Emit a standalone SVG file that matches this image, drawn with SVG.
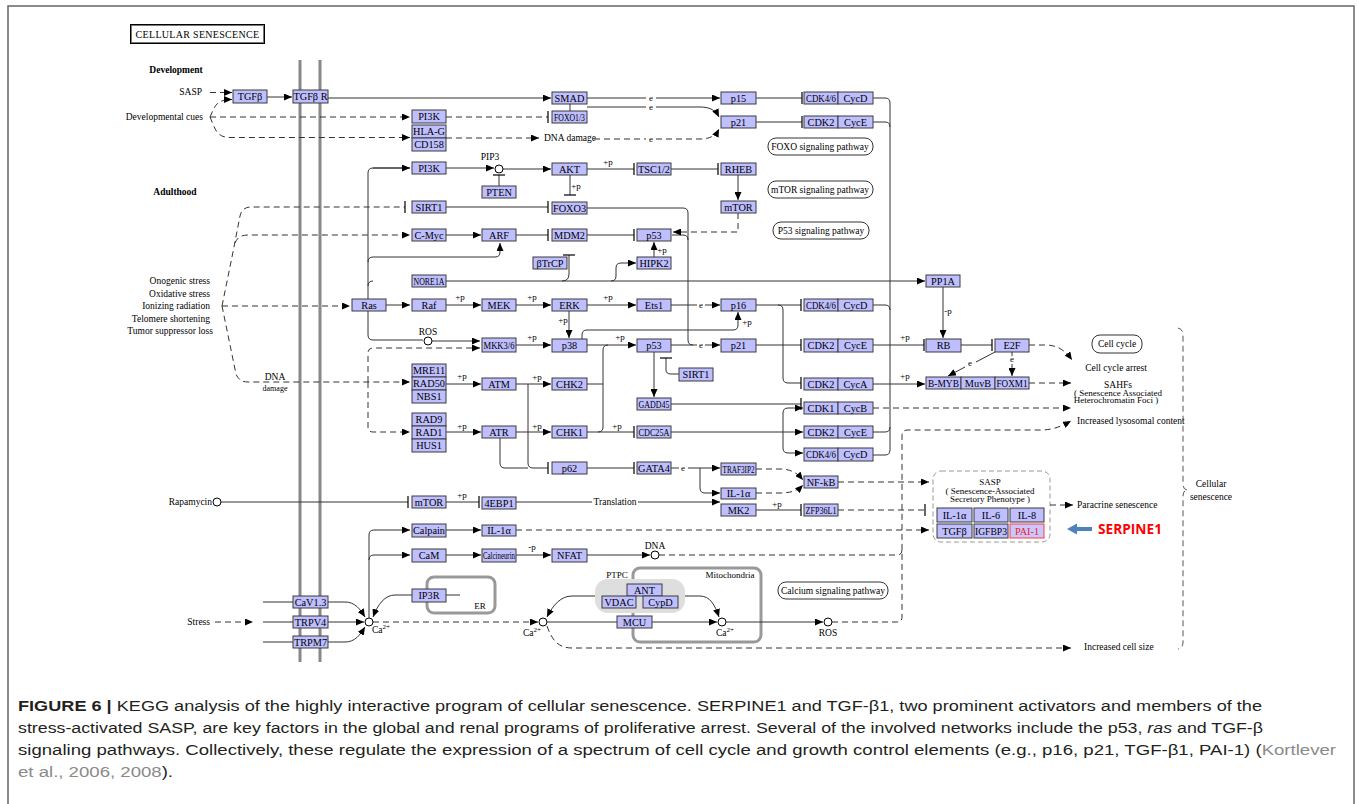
<svg xmlns="http://www.w3.org/2000/svg" width="1357" height="804" viewBox="0 0 1357 804">
<style>
.b{fill:#bfbfff;stroke:#3a3a3a;stroke-width:1}
.t{font-family:"Liberation Serif",serif;font-size:10.3px;fill:#000;text-anchor:middle}
.l{font-family:"Liberation Serif",serif;font-size:9.5px;fill:#000}
.r{text-anchor:end}
.m{text-anchor:middle}
.s{font-family:"Liberation Serif",serif;font-size:9px;fill:#000;text-anchor:middle}
.c{fill:none;stroke:#333;stroke-width:1}
.d{fill:none;stroke:#333;stroke-width:1;stroke-dasharray:6 4}
.a{marker-end:url(#ar)}
.i{marker-end:url(#ih)}
.pw{fill:#fff;stroke:#333;stroke-width:1}
.mem{stroke:#888;stroke-width:3}
.cap{font-family:"Liberation Sans",Arial,sans-serif;font-size:15.5px;fill:#231f20}
</style>
<defs>
<marker id="ar" viewBox="0 0 8 7" refX="8" refY="3.5" markerWidth="8" markerHeight="7" markerUnits="userSpaceOnUse" orient="auto"><path d="M0,0L8,3.5L0,7z" fill="#000"/></marker>
<marker id="ih" viewBox="0 0 2 12" refX="1" refY="6" markerWidth="2" markerHeight="12" markerUnits="userSpaceOnUse" orient="auto"><path d="M1,0V12" stroke="#000" stroke-width="1.2"/></marker>
</defs>
<rect x="0" y="0" width="1357" height="804" fill="#fff"/>
<rect x="8" y="6" width="1346" height="802" fill="none" stroke="#666" stroke-width="1.5"/>

<g id="title">
<rect x="130.5" y="24.5" width="134" height="19" fill="#fff" stroke="#000" stroke-width="1"/>
<rect x="131.5" y="25.5" width="132" height="17" fill="none" stroke="#777" stroke-width="1"/>
<text x="197.5" y="38" class="t" style="font-size:10px;letter-spacing:0.3px">CELLULAR  SENESCENCE</text>
</g>

<g id="membrane">
<line x1="300" y1="60" x2="300" y2="662" class="mem"/>
<line x1="320" y1="60" x2="320" y2="662" class="mem"/>
</g>

<g id="compartments">
<rect x="427" y="577" width="68" height="36" rx="7" fill="none" stroke="#999" stroke-width="3"/>
<text x="480" y="609" class="l m" style="font-size:9px">ER</text>
<rect x="633" y="568" width="128" height="74" rx="7" fill="none" stroke="#999" stroke-width="3"/>
<rect x="595" y="579" width="90" height="34" rx="13" fill="#dedede"/>
<text x="617" y="578" class="l m" style="font-size:9px">PTPC</text>
<text x="730" y="578" class="l m" style="font-size:9px">Mitochondria</text>
<rect x="933" y="471" width="117" height="71" rx="8" fill="none" stroke="#999" stroke-width="1" stroke-dasharray="5 3"/>
</g>

<g id="labels">
<text x="176" y="73" class="l m" style="font-weight:bold">Development</text>
<text x="175" y="195" class="l m" style="font-weight:bold">Adulthood</text>
<text x="202" y="95" class="l r">SASP</text>
<text x="203" y="120" class="l r">Developmental cues</text>
<text x="210" y="284" class="l r">Onogenic stress</text>
<text x="210" y="296.5" class="l r">Oxidative stress</text>
<text x="210" y="309" class="l r">Ionizing radiation</text>
<text x="210" y="321.5" class="l r">Telomere shortening</text>
<text x="213" y="334" class="l r">Tumor suppressor loss</text>
<text x="275" y="380" class="l m">DNA</text>
<text x="275" y="391" class="l m" style="font-size:8px">damage</text>
<text x="212" y="505" class="l r">Rapamycin</text>
<text x="210" y="625" class="l r">Stress</text>
<text x="544" y="141" class="l">DNA damage</text>
<text x="490" y="160" class="l m">PIP3</text>
<text x="428" y="335" class="l m">ROS</text>
<text x="655" y="549" class="l m">DNA</text>
<text x="615" y="505" class="l m">Translation</text>
<text x="532" y="636" class="l m">Ca<tspan dy="-4" font-size="7">2+</tspan></text>
<text x="725" y="636" class="l m">Ca<tspan dy="-4" font-size="7">2+</tspan></text>
<text x="381" y="633" class="l m">Ca<tspan dy="-4" font-size="7">2+</tspan></text>
<text x="828" y="636" class="l m">ROS</text>
<text x="1116" y="371" class="l m">Cell cycle arrest</text>
<text x="1118" y="387.5" class="l m">SAHFs</text>
<text x="1118" y="395.5" class="l m" style="font-size:9px">( Senescence Associated</text>
<text x="1116" y="403" class="l m" style="font-size:9px">Heterochromatin Foci )</text>
<text x="1077" y="424" class="l">Increased lysosomal content</text>
<text x="1077" y="508" class="l">Paracrine  senescence</text>
<text x="1084" y="650" class="l">Increased cell size</text>
<text x="1211" y="487" class="l m">Cellular</text>
<text x="1211" y="500" class="l m">senescence</text>
<text x="990" y="485" class="l m" style="font-size:9px">SASP</text>
<text x="990" y="493.5" class="l m" style="font-size:9px">( Senescence-Associated</text>
<text x="990" y="502" class="l m" style="font-size:9px">Secretory Phenotype )</text>
</g>

<g id="edge-labels">
<text x="651" y="101" class="s">e</text>
<text x="651" y="110" class="s">e</text>
<text x="651" y="142" class="s">e</text>
<text x="608" y="165" class="s">+p</text>
<text x="576" y="189" class="s">+p</text>
<text x="662" y="253" class="s">+p</text>
<text x="460" y="300" class="s">+p</text>
<text x="532" y="300" class="s">+p</text>
<text x="608" y="300" class="s">+p</text>
<text x="701" y="308" class="s">e</text>
<text x="563" y="323" class="s">+p</text>
<text x="747" y="325" class="s">+p</text>
<text x="532" y="340" class="s">+p</text>
<text x="620" y="340" class="s">+p</text>
<text x="701" y="348" class="s">e</text>
<text x="462" y="379" class="s">+p</text>
<text x="537" y="380" class="s">+p</text>
<text x="462" y="429" class="s">+p</text>
<text x="537" y="429" class="s">+p</text>
<text x="617" y="429" class="s">+p</text>
<text x="683" y="471" class="s">e</text>
<text x="462" y="498" class="s">+p</text>
<text x="777" y="507" class="s">+p</text>
<text x="532" y="550" class="s">-p</text>
<text x="905" y="340" class="s">+p</text>
<text x="905" y="379" class="s">+p</text>
<text x="948" y="314" class="s">-p</text>
<text x="970" y="366" class="s">e</text>
<text x="1012" y="362" class="s">e</text>
</g>

<g id="connectors">
<path d="M210 92.5H232" class="d a"/>
<path d="M210 117C215 106 216 99.5 232 99.5" class="d a"/>
<path d="M210 117H410" class="d a"/>
<path d="M210 117C215 128 216 137.5 230 137.5H410" class="d a"/>
<path d="M267 97H292" class="c a"/>
<path d="M328 98H551" class="c a"/>
<path d="M446 117H548" class="d i"/>
<path d="M446 138H539" class="d a"/>
<path d="M587 98H646M656 98H720" class="c a"/>
<path d="M570 104V111M587 107H646M656 107H700C711 107 716 111 719 117" class="c a"/>
<path d="M594 139H646M656 139H700C711 139 716 135 719 129" class="d a"/>
<path d="M756 98H802" class="c i"/>
<path d="M756 122H802" class="c i"/>
<path d="M873 98H885Q890 98 890 103V450Q890 455 885 455H873" class="c"/>
<path d="M873 122H885Q890 122 890 127" class="c"/>
<path d="M873 305H885Q890 305 890 310" class="c"/>
<path d="M873 432H885Q890 432 890 427" class="c"/>
<path d="M873 345H924" class="c i"/>
<path d="M873 384H925" class="c a"/>
<path d="M873 408H1071" class="d a"/>
<path d="M943 287V338" class="c a"/>
<path d="M446 281H925" class="c a"/>
<path d="M961 345H992" class="c i"/>
<path d="M995 352L976 362M965 367L948 376" class="c a"/>
<path d="M1012 352V356M1012 364V376" class="d a"/>
<path d="M1029 345H1045C1057 345 1065 350 1072 360" class="d a"/>
<path d="M1029 383H1071" class="d a"/>
<path d="M832 622H897Q902 622 902 617V436Q902 430 908 430H1040C1054 430 1062 426 1071 421" class="d a"/>
<path d="M659 555H897Q902 555 902 550" class="d"/>
<path d="M547 626C552 640 558 648 572 648H1071" class="d a"/>
<path d="M1178 328Q1183 329 1183 335V484Q1183 490 1188 490Q1183 490 1183 496V642Q1183 648 1178 649" fill="none" stroke="#555" stroke-dasharray="6 4"/>
<path d="M838 482H929" class="d a"/>
<path d="M838 510H925" class="d i"/>
<path d="M516 530H929" class="d a"/>
<path d="M1050 505H1073" class="d a"/>
<path d="M222 306H350" class="d a"/>
<path d="M222 306L233 252L240 216Q242 207 251 207H405" class="d i"/>
<path d="M235 243Q238 235 248 235H410" class="d a"/>
<path d="M222 306L236 374Q239 382 248 382H410" class="d a"/>
<path d="M368 382V353Q368 348 373 348H480" class="d a"/>
<path d="M368 382V427Q368 432 373 432H410" class="d a"/>
<path d="M410 168H373Q368 168 368 173V335Q368 340 373 340H423" class="c"/>
<path d="M373 168H410" class="c a"/>
<path d="M432 341H480" class="c a"/>
<path d="M368 262Q368 257 373 257H495Q500 257 500 252V243" class="c a"/>
<path d="M368 286Q368 281 373 281" class="c"/>
<path d="M386 305H410" class="c a"/>
<path d="M446 168H494" class="c a"/>
<path d="M503 169H551" class="c a"/>
<path d="M499 186V175" class="c i"/>
<path d="M587 169H634" class="c i"/>
<path d="M671 169H718" class="c i"/>
<path d="M738 175V200" class="c a"/>
<path d="M570 175V195" class="c i"/>
<path d="M446 207H548" class="c i"/>
<path d="M587 208H683Q688 208 688 213V340Q688 345 693 345" class="c"/>
<path d="M672 235H683Q688 235 688 240" class="c"/>
<path d="M738 213V232H673" class="d a"/>
<path d="M446 235H481" class="c a"/>
<path d="M516 235H548" class="c i"/>
<path d="M587 235H634" class="c i"/>
<path d="M562 281Q569 281 569 274V255" class="c i"/>
<path d="M611 281Q616 281 616 276V268Q616 263 621 263H636" class="c a"/>
<path d="M654 257V242" class="c a"/>
<path d="M446 305H481" class="c a"/>
<path d="M516 305H551" class="c a"/>
<path d="M587 305H636" class="c a"/>
<path d="M671 305H697M705 305H720" class="c a"/>
<path d="M569 311V338" class="c a"/>
<path d="M582 339V335Q582 330 587 330H733Q738 330 738 325V312" class="c a"/>
<path d="M516 345H551" class="c a"/>
<path d="M587 345H636" class="c a"/>
<path d="M671 345H697M705 345H720" class="c a"/>
<path d="M756 305H801" class="c i"/>
<path d="M756 345H801" class="c i"/>
<path d="M778 305Q783 305 783 310V378Q783 383 788 383H801" class="c i"/>
<path d="M446 384H481" class="c a"/>
<path d="M516 384H551" class="c a"/>
<path d="M587 384H603M603 350Q603 345 608 345M603 350V427Q603 432 598 432" class="c"/>
<path d="M587 432H634" class="c i"/>
<path d="M446 432H481" class="c a"/>
<path d="M516 432H551" class="c a"/>
<path d="M528 384V463Q528 468 533 468H548" class="c i"/>
<path d="M500 438V463Q500 468 505 468H528" class="c"/>
<path d="M679 374H671Q666 374 666 370V358" class="c i"/>
<path d="M654 352V397" class="c a"/>
<path d="M671 404H801" class="c i"/>
<path d="M671 432H803" class="c a"/>
<path d="M783 432V413Q783 408 788 408H803" class="c a"/>
<path d="M783 432V448Q783 453 788 453H803" class="c a"/>
<path d="M587 468H634" class="c i"/>
<path d="M671 468H679M688 468H720" class="c a"/>
<path d="M700 468V488Q700 493 705 493H720" class="c a"/>
<path d="M756 469H780C792 469 798 474 803 480" class="d a"/>
<path d="M756 493H780C792 493 798 490 803 485" class="d a"/>
<path d="M221 502H408" class="c i"/>
<path d="M446 502H479" class="c i"/>
<path d="M516 502H592M638 502H720" class="c a"/>
<path d="M756 510H801" class="c i"/>
<path d="M446 530H481" class="c a"/>
<path d="M446 555H481" class="c a"/>
<path d="M516 555H551" class="c a"/>
<path d="M587 555H650" class="c a"/>
<path d="M369 618V535Q369 530 374 530H410" class="c a"/>
<path d="M369 560Q369 555 374 555H410" class="c a"/>
<path d="M412 595H395C385 595 378 604 373 617" class="c a"/>
<path d="M446 595H460" class="c"/>
<path d="M263 602H293M328 602H345C355 602 360 609 365 617" class="c a"/>
<path d="M263 622H293M328 622H364" class="c a"/>
<path d="M263 642H293M328 642H345C355 642 360 635 365 627" class="c a"/>
<path d="M215 622H253" class="d a"/>
<path d="M373 622H538" class="d a"/>
<path d="M547 622H717" class="c a"/>
<path d="M595 596H572C561 596 553 605 547 617" class="c a"/>
<path d="M685 596H700C710 596 715 605 719 617" class="c a"/>
<path d="M726 622H823" class="c a"/>
</g>

<g id="circles" fill="#fff" stroke="#000" stroke-width="1">
<circle cx="499" cy="169" r="4"/>
<circle cx="428" cy="341" r="4"/>
<circle cx="217" cy="502" r="4"/>
<circle cx="655" cy="555" r="4"/>
<circle cx="369" cy="622" r="4"/>
<circle cx="543" cy="622" r="4"/>
<circle cx="722" cy="622" r="4"/>
<circle cx="828" cy="622" r="4"/>
</g>

<g id="pathways">
<g id="pw-foxo"><rect x="768" y="138" width="105" height="17" rx="8" class="pw"/><text x="820" y="149.5" class="t" style="font-size:9.5px">FOXO signaling pathway</text></g>
<g id="pw-mtor"><rect x="768" y="181" width="105" height="17" rx="8" class="pw"/><text x="820" y="192.5" class="t" style="font-size:9.5px">mTOR signaling pathway</text></g>
<g id="pw-p53"><rect x="773" y="222" width="96" height="17" rx="8" class="pw"/><text x="821" y="233.5" class="t" style="font-size:9.5px">P53 signaling pathway</text></g>
<g id="pw-cc"><rect x="1092" y="335" width="50" height="18" rx="8" class="pw"/><text x="1117" y="347" class="t" style="font-size:9.5px">Cell cycle</text></g>
<g id="pw-ca"><rect x="778" y="582" width="110" height="17" rx="8" class="pw"/><text x="833" y="593.5" class="t" style="font-size:9.5px">Calcium signaling pathway</text></g>
</g>

<g id="n-tgfb"><rect x="233" y="90" width="34" height="13" class="b"/><text x="250" y="100" class="t">TGFβ</text></g>
<g id="n-tgfbr"><rect x="293" y="90" width="35" height="13" class="b"/><text x="310.5" y="100" class="t">TGFβ R</text></g>
<g id="n-pi3k-dev"><rect x="412" y="110" width="34" height="13" class="b"/><text x="429" y="120" class="t">PI3K</text></g>
<g id="n-hlag"><rect x="412" y="125" width="34" height="13" class="b"/><text x="429" y="135" class="t">HLA-G</text><rect x="412" y="138" width="34" height="13" class="b"/><text x="429" y="148" class="t">CD158</text></g>
<g id="n-smad"><rect x="552" y="92" width="35" height="12" class="b"/><text x="569.5" y="101.5" class="t">SMAD</text></g>
<g id="n-foxo13"><rect x="552" y="111" width="35" height="12" class="b"/><text x="569.5" y="120.5" class="t" textLength="31" lengthAdjust="spacingAndGlyphs">FOXO1/3</text></g>
<g id="n-p15"><rect x="721" y="92" width="35" height="12" class="b"/><text x="738.5" y="101.5" class="t">p15</text></g>
<g id="n-p21a"><rect x="721" y="116" width="35" height="12" class="b"/><text x="738.5" y="125.5" class="t">p21</text></g>
<g id="n-cdk46a"><rect x="804" y="92" width="34" height="12" class="b"/><rect x="838" y="92" width="35" height="12" class="b"/><text x="821" y="101.5" class="t" textLength="30" lengthAdjust="spacingAndGlyphs">CDK4/6</text><text x="855.5" y="101.5" class="t">CycD</text></g>
<g id="n-cdk2a"><rect x="804" y="116" width="34" height="12" class="b"/><rect x="838" y="116" width="35" height="12" class="b"/><text x="821" y="125.5" class="t">CDK2</text><text x="855.5" y="125.5" class="t">CycE</text></g>
<g id="n-pi3k"><rect x="412" y="162" width="34" height="12" class="b"/><text x="429" y="171.5" class="t">PI3K</text></g>
<g id="n-pten"><rect x="482" y="186" width="34" height="12" class="b"/><text x="499" y="195.5" class="t">PTEN</text></g>
<g id="n-akt"><rect x="552" y="163" width="35" height="12" class="b"/><text x="569.5" y="172.5" class="t">AKT</text></g>
<g id="n-tsc"><rect x="637" y="163" width="34" height="12" class="b"/><text x="654" y="172.5" class="t">TSC1/2</text></g>
<g id="n-rheb"><rect x="721" y="163" width="35" height="12" class="b"/><text x="738.5" y="172.5" class="t">RHEB</text></g>
<g id="n-sirt1"><rect x="412" y="201" width="34" height="12" class="b"/><text x="429" y="210.5" class="t">SIRT1</text></g>
<g id="n-foxo3"><rect x="552" y="202" width="35" height="12" class="b"/><text x="569.5" y="211.5" class="t">FOXO3</text></g>
<g id="n-mtor"><rect x="721" y="201" width="35" height="12" class="b"/><text x="738.5" y="210.5" class="t">mTOR</text></g>
<g id="n-cmyc"><rect x="412" y="229" width="34" height="12" class="b"/><text x="429" y="238.5" class="t">C-Myc</text></g>
<g id="n-arf"><rect x="482" y="229" width="34" height="12" class="b"/><text x="499" y="238.5" class="t">ARF</text></g>
<g id="n-mdm2"><rect x="552" y="229" width="35" height="12" class="b"/><text x="569.5" y="238.5" class="t">MDM2</text></g>
<g id="n-p53a"><rect x="637" y="229" width="34" height="12" class="b"/><text x="654" y="238.5" class="t">p53</text></g>
<g id="n-btrcp"><rect x="533" y="257" width="34" height="12" class="b"/><text x="550" y="266.5" class="t">βTrCP</text></g>
<g id="n-hipk2"><rect x="637" y="257" width="34" height="12" class="b"/><text x="654" y="266.5" class="t">HIPK2</text></g>
<g id="n-nore1a"><rect x="412" y="275" width="34" height="12" class="b"/><text x="429" y="284.5" class="t" textLength="31" lengthAdjust="spacingAndGlyphs">NORE1A</text></g>
<g id="n-pp1a"><rect x="926" y="275" width="34" height="12" class="b"/><text x="943" y="284.5" class="t">PP1A</text></g>
<g id="n-ras"><rect x="352" y="299" width="34" height="12" class="b"/><text x="369" y="308.5" class="t">Ras</text></g>
<g id="n-raf"><rect x="412" y="299" width="34" height="12" class="b"/><text x="429" y="308.5" class="t">Raf</text></g>
<g id="n-mek"><rect x="482" y="299" width="34" height="12" class="b"/><text x="499" y="308.5" class="t">MEK</text></g>
<g id="n-erk"><rect x="552" y="299" width="35" height="12" class="b"/><text x="569.5" y="308.5" class="t">ERK</text></g>
<g id="n-ets1"><rect x="637" y="299" width="34" height="12" class="b"/><text x="654" y="308.5" class="t">Ets1</text></g>
<g id="n-p16"><rect x="721" y="299" width="35" height="12" class="b"/><text x="738.5" y="308.5" class="t">p16</text></g>
<g id="n-cdk46b"><rect x="804" y="299" width="34" height="12" class="b"/><rect x="838" y="299" width="35" height="12" class="b"/><text x="821" y="308.5" class="t" textLength="30" lengthAdjust="spacingAndGlyphs">CDK4/6</text><text x="855.5" y="308.5" class="t">CycD</text></g>
<g id="n-mkk36"><rect x="482" y="338" width="34" height="14" class="b"/><text x="499" y="348.5" class="t" textLength="31" lengthAdjust="spacingAndGlyphs">MKK3/6</text></g>
<g id="n-p38"><rect x="552" y="339" width="35" height="13" class="b"/><text x="569.5" y="349" class="t">p38</text></g>
<g id="n-p53b"><rect x="637" y="339" width="34" height="13" class="b"/><text x="654" y="349" class="t">p53</text></g>
<g id="n-p21b"><rect x="721" y="339" width="35" height="13" class="b"/><text x="738.5" y="349" class="t">p21</text></g>
<g id="n-cdk2b"><rect x="804" y="339" width="34" height="13" class="b"/><rect x="838" y="339" width="35" height="13" class="b"/><text x="821" y="349" class="t">CDK2</text><text x="855.5" y="349" class="t">CycE</text></g>
<g id="n-rb"><rect x="926" y="339" width="35" height="13" class="b"/><text x="943.5" y="349" class="t">RB</text></g>
<g id="n-e2f"><rect x="995" y="339" width="34" height="13" class="b"/><text x="1012" y="349" class="t">E2F</text></g>
<g id="n-mrn"><rect x="412" y="364" width="34" height="13" class="b"/><text x="429" y="374" class="t">MRE11</text><rect x="412" y="377" width="34" height="13" class="b"/><text x="429" y="387" class="t">RAD50</text><rect x="412" y="390" width="34" height="13" class="b"/><text x="429" y="400" class="t">NBS1</text></g>
<g id="n-sirt1b"><rect x="679" y="368" width="34" height="13" class="b"/><text x="696" y="378" class="t">SIRT1</text></g>
<g id="n-atm"><rect x="482" y="378" width="34" height="12" class="b"/><text x="499" y="387.5" class="t">ATM</text></g>
<g id="n-chk2"><rect x="552" y="378" width="35" height="12" class="b"/><text x="569.5" y="387.5" class="t">CHK2</text></g>
<g id="n-cdk2cyca"><rect x="804" y="378" width="34" height="12" class="b"/><rect x="838" y="378" width="35" height="12" class="b"/><text x="821" y="387.5" class="t">CDK2</text><text x="855.5" y="387.5" class="t">CycA</text></g>
<g id="n-bmyb"><rect x="926" y="377" width="35" height="12" class="b"/><rect x="961" y="377" width="34" height="12" class="b"/><rect x="995" y="377" width="34" height="12" class="b"/><text x="943.5" y="386.5" class="t" textLength="31" lengthAdjust="spacingAndGlyphs">B-MYB</text><text x="978" y="386.5" class="t">MuvB</text><text x="1012" y="386.5" class="t" textLength="31" lengthAdjust="spacingAndGlyphs">FOXM1</text></g>
<g id="n-gadd45"><rect x="637" y="398" width="34" height="12" class="b"/><text x="654" y="407.5" class="t" textLength="31" lengthAdjust="spacingAndGlyphs">GADD45</text></g>
<g id="n-cdk1"><rect x="804" y="402" width="34" height="12" class="b"/><rect x="838" y="402" width="35" height="12" class="b"/><text x="821" y="411.5" class="t">CDK1</text><text x="855.5" y="411.5" class="t">CycB</text></g>
<g id="n-9-1-1"><rect x="412" y="413" width="34" height="13" class="b"/><text x="429" y="423" class="t">RAD9</text><rect x="412" y="426" width="34" height="13" class="b"/><text x="429" y="436" class="t">RAD1</text><rect x="412" y="439" width="34" height="13" class="b"/><text x="429" y="449" class="t">HUS1</text></g>
<g id="n-atr"><rect x="482" y="426" width="34" height="12" class="b"/><text x="499" y="435.5" class="t">ATR</text></g>
<g id="n-chk1"><rect x="552" y="426" width="35" height="12" class="b"/><text x="569.5" y="435.5" class="t">CHK1</text></g>
<g id="n-cdc25a"><rect x="637" y="426" width="34" height="12" class="b"/><text x="654" y="435.5" class="t" textLength="31" lengthAdjust="spacingAndGlyphs">CDC25A</text></g>
<g id="n-cdk2c"><rect x="804" y="426" width="34" height="12" class="b"/><rect x="838" y="426" width="35" height="12" class="b"/><text x="821" y="435.5" class="t">CDK2</text><text x="855.5" y="435.5" class="t">CycE</text></g>
<g id="n-cdk46c"><rect x="804" y="448" width="34" height="13" class="b"/><rect x="838" y="448" width="35" height="13" class="b"/><text x="821" y="458" class="t" textLength="30" lengthAdjust="spacingAndGlyphs">CDK4/6</text><text x="855.5" y="458" class="t">CycD</text></g>
<g id="n-p62"><rect x="552" y="462" width="35" height="12" class="b"/><text x="569.5" y="471.5" class="t">p62</text></g>
<g id="n-gata4"><rect x="637" y="462" width="34" height="12" class="b"/><text x="654" y="471.5" class="t">GATA4</text></g>
<g id="n-traf3ip2"><rect x="721" y="463" width="35" height="12" class="b"/><text x="738.5" y="472.5" class="t" textLength="32" lengthAdjust="spacingAndGlyphs">TRAF3IP2</text></g>
<g id="n-nfkb"><rect x="804" y="476" width="34" height="12" class="b"/><text x="821" y="485.5" class="t">NF-kB</text></g>
<g id="n-il1a-b"><rect x="721" y="488" width="35" height="11" class="b"/><text x="738.5" y="497" class="t">IL-1α</text></g>
<g id="n-mtor-b"><rect x="412" y="496" width="34" height="12" class="b"/><text x="429" y="505.5" class="t">mTOR</text></g>
<g id="n-4ebp1"><rect x="482" y="497" width="34" height="12" class="b"/><text x="499" y="506.5" class="t">4EBP1</text></g>
<g id="n-mk2"><rect x="721" y="504" width="35" height="12" class="b"/><text x="738.5" y="513.5" class="t">MK2</text></g>
<g id="n-zfp36l1"><rect x="804" y="504" width="34" height="12" class="b"/><text x="821" y="513.5" class="t" textLength="31" lengthAdjust="spacingAndGlyphs">ZFP36L1</text></g>
<g id="n-calpain"><rect x="412" y="524" width="34" height="13" class="b"/><text x="429" y="534" class="t">Calpain</text></g>
<g id="n-il1a-a"><rect x="482" y="525" width="34" height="11" class="b"/><text x="499" y="534" class="t">IL-1α</text></g>
<g id="n-cam"><rect x="412" y="549" width="34" height="13" class="b"/><text x="429" y="559" class="t">CaM</text></g>
<g id="n-calcineurin"><rect x="482" y="549" width="34" height="13" class="b"/><text x="499" y="559" class="t" textLength="32" lengthAdjust="spacingAndGlyphs">Calcineurin</text></g>
<g id="n-nfat"><rect x="552" y="549" width="35" height="13" class="b"/><text x="569.5" y="559" class="t">NFAT</text></g>
<g id="n-ip3r"><rect x="412" y="589" width="34" height="13" class="b"/><text x="429" y="599" class="t">IP3R</text></g>
<g id="n-cav13"><rect x="293" y="596" width="35" height="12" class="b"/><text x="310.5" y="605.5" class="t">CaV1.3</text></g>
<g id="n-trpv4"><rect x="293" y="616" width="35" height="12" class="b"/><text x="310.5" y="625.5" class="t">TRPV4</text></g>
<g id="n-trpm7"><rect x="293" y="636" width="35" height="12" class="b"/><text x="310.5" y="645.5" class="t">TRPM7</text></g>
<g id="n-ant"><rect x="627" y="584" width="35" height="12" class="b"/><text x="644.5" y="593.5" class="t">ANT</text></g>
<g id="n-vdac"><rect x="602" y="596" width="34" height="12" class="b"/><text x="619" y="605.5" class="t">VDAC</text></g>
<g id="n-cypd"><rect x="643" y="596" width="35" height="12" class="b"/><text x="660.5" y="605.5" class="t">CypD</text></g>
<g id="n-mcu"><rect x="617" y="616" width="35" height="12" class="b"/><text x="634.5" y="625.5" class="t">MCU</text></g>
<g id="n-sasp">
<rect x="937" y="508" width="35" height="14" class="b"/><text x="954.5" y="518.5" class="t">IL-1α</text>
<rect x="974" y="508" width="34" height="14" class="b"/><text x="991" y="518.5" class="t">IL-6</text>
<rect x="1010" y="508" width="34" height="14" class="b"/><text x="1027" y="518.5" class="t">IL-8</text>
<rect x="937" y="524" width="35" height="14" class="b"/><text x="954.5" y="534.5" class="t">TGFβ</text>
<rect x="974" y="524" width="34" height="14" class="b"/><text x="991" y="534.5" class="t" textLength="32" lengthAdjust="spacingAndGlyphs">IGFBP3</text>
<rect x="1010" y="524" width="34" height="14" fill="#c8c8ff" stroke="#ff3b3b" stroke-width="1"/><text x="1027" y="534.5" class="t" style="fill:#f02020">PAI-1</text>
</g>

<g id="serpine1">
<path d="M1092 529H1075" stroke="#4f81bd" stroke-width="4"/>
<path d="M1067 529L1077 523.5V534.5Z" fill="#4f81bd"/>
<text x="1098" y="534" style="font-family:'Open Sans','Liberation Sans',sans-serif;font-weight:bold;font-size:14px;fill:#ff0000" textLength="64" lengthAdjust="spacingAndGlyphs">SERPINE1</text>
</g>

<g id="caption">
<text x="18" y="710.5" class="cap" textLength="1244" lengthAdjust="spacingAndGlyphs"><tspan font-weight="bold">FIGURE 6 |</tspan> KEGG analysis of the highly interactive program of cellular senescence. SERPINE1 and TGF-β1, two prominent activators and members of the</text>
<text x="18" y="732.5" class="cap" textLength="1245" lengthAdjust="spacingAndGlyphs">stress-activated SASP, are key factors in the global and renal programs of proliferative arrest. Several of the involved networks include the p53, <tspan font-style="italic">ras</tspan> and TGF-β</text>
<text x="18" y="754.5" class="cap" textLength="1318" lengthAdjust="spacingAndGlyphs">signaling pathways. Collectively, these regulate the expression of a spectrum of cell cycle and growth control elements (e.g., p16, p21, TGF-β1, PAI-1) (<tspan fill="#8a8a8a">Kortlever</tspan></text>
<text x="18" y="776.5" class="cap" textLength="155" lengthAdjust="spacingAndGlyphs"><tspan fill="#8a8a8a">et al., 2006, 2008</tspan>).</text>
</g>
</svg>
